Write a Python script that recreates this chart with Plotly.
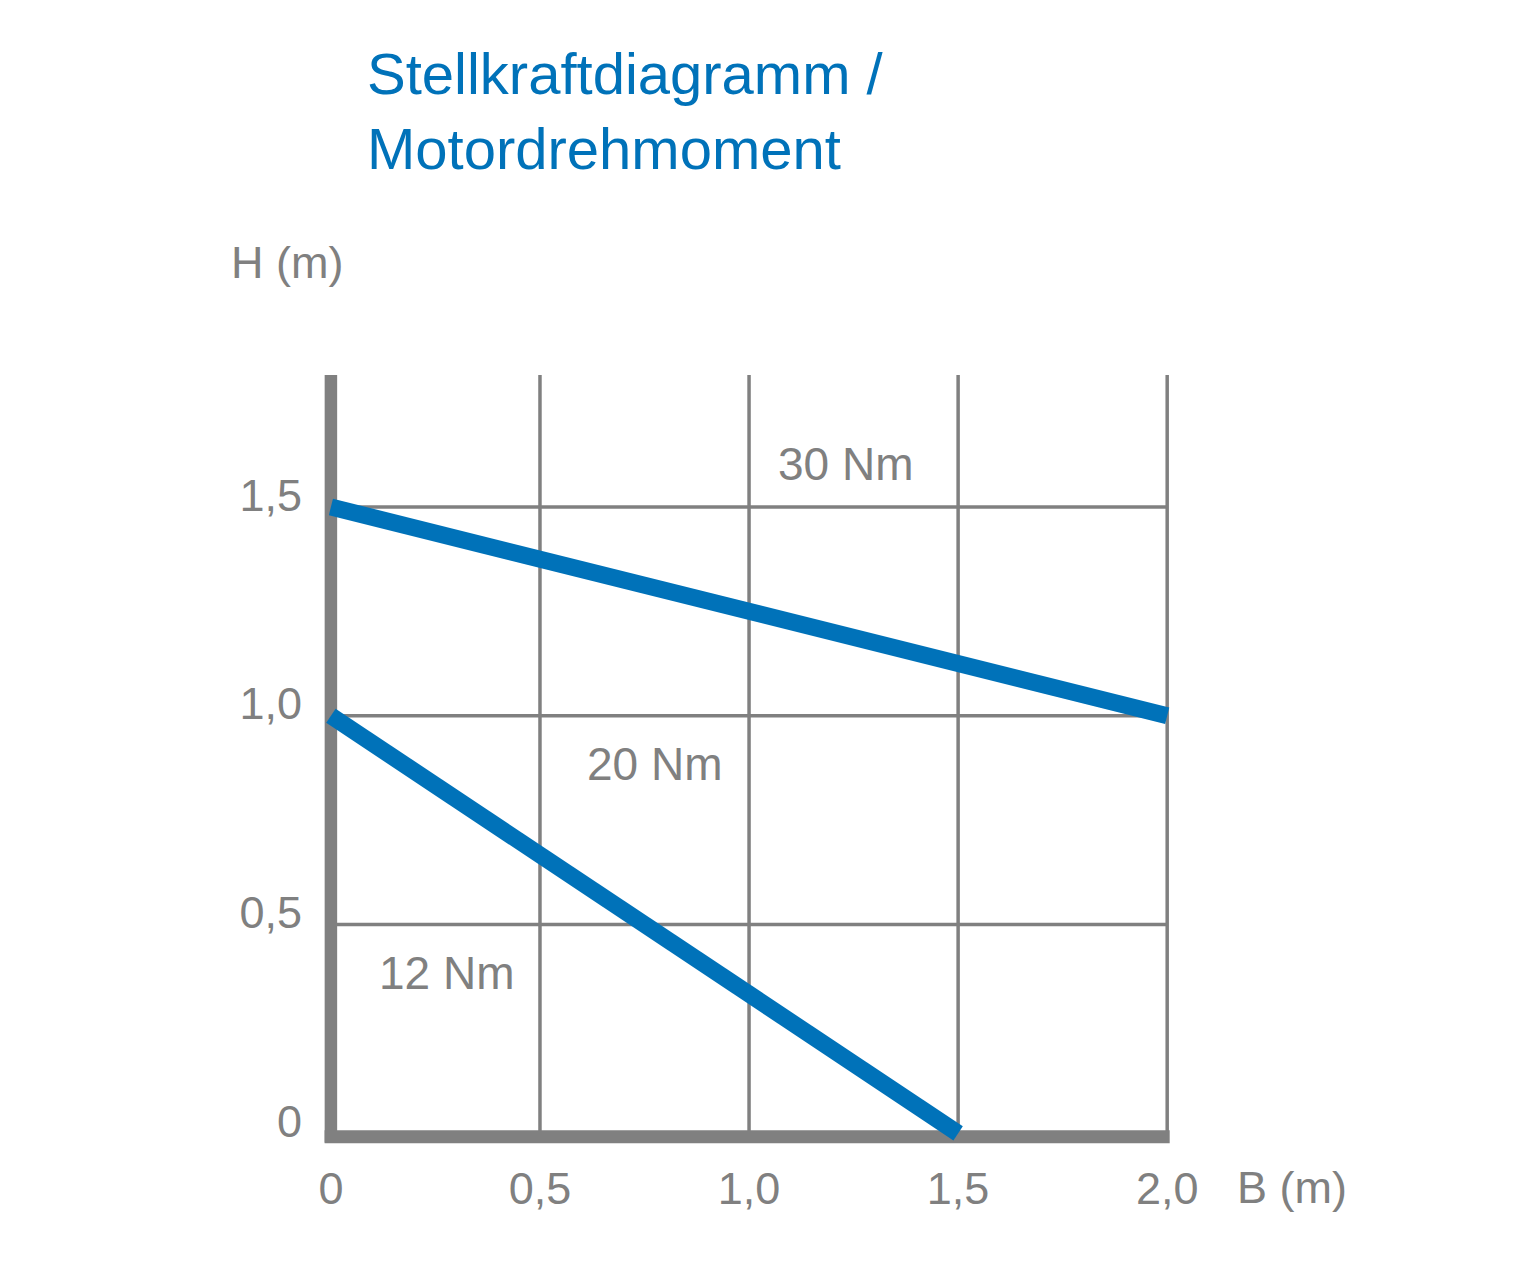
import plotly.graph_objects as go

# ---- data ----
b_30nm = [0.0, 2.0]          # B (m)
h_30nm = [1.5, 1.0]          # H (m)
b_12nm = [0.0, 1.5]
h_12nm = [1.0, 0.0]

x_tickvals = [0, 0.5, 1.0, 1.5, 2.0]
x_ticktext = ["0", "0,5", "1,0", "1,5", "2,0"]
y_tickvals = [0, 0.5, 1.0, 1.5]
y_ticktext = ["0", "0,5", "1,0", "1,5"]

region_labels = ["30 Nm", "20 Nm", "12 Nm"]
region_x = [1.23, 0.775, 0.277]
region_y = [1.603, 0.885, 0.383]

X_MAX = 2.0
Y_TOP = 1.816

GRAY = "#808080"
BLUE = "#0072B9"
FONT = "Liberation Sans, Arial, Helvetica, sans-serif"

fig = go.Figure()

for bx, hy in [(b_30nm, h_30nm), (b_12nm, h_12nm)]:
    fig.add_trace(go.Scatter(x=bx, y=hy, mode="lines",
                             line=dict(color=BLUE, width=17),
                             hoverinfo="skip", showlegend=False))

shapes = []
# grid lines
for xv in x_tickvals[1:]:
    shapes.append(dict(type="line", xref="x", yref="y", x0=xv, x1=xv, y0=0, y1=Y_TOP,
                       line=dict(color=GRAY, width=3.5), layer="below"))
for yv in y_tickvals[1:]:
    shapes.append(dict(type="line", xref="x", yref="y", x0=0, x1=X_MAX, y0=yv, y1=yv,
                       line=dict(color=GRAY, width=3.5), layer="below"))
# thick axis lines
shapes.append(dict(type="line", xref="x", yref="y", x0=0, x1=0, y0=-0.022, y1=Y_TOP,
                   line=dict(color=GRAY, width=12.5), layer="below"))
shapes.append(dict(type="line", xref="x", yref="y", x0=-0.015, x1=X_MAX + 0.006, y0=-0.008, y1=-0.008,
                   line=dict(color=GRAY, width=13), layer="below"))

annotations = []
for t, xv, yv in zip(region_labels, region_x, region_y):
    annotations.append(dict(x=xv, y=yv, xref="x", yref="y", text=t, showarrow=False,
                            xanchor="center", yanchor="middle",
                            font=dict(family=FONT, size=46, color=GRAY)))
annotations.append(dict(x=-0.0902, y=1.1458, xref="paper", yref="paper", text="H (m)", showarrow=False,
                        xanchor="left", yanchor="middle",
                        font=dict(family=FONT, size=45, color=GRAY)))
annotations.append(dict(x=1.0290, y=-0.049, xref="paper", yref="paper", text="B (m)", showarrow=False,
                        xanchor="left", yanchor="middle",
                        font=dict(family=FONT, size=45, color=GRAY)))

fig.update_layout(
    width=1514, height=1276,
    margin=dict(l=302, r=313, t=367, b=134, autoexpand=False),
    paper_bgcolor="white", plot_bgcolor="white",
    title=dict(text="Stellkraftdiagramm /<br>Motordrehmoment",
               xref="container", yref="container",
               x=359 / 1514, xanchor="left", y=1 - 86 / 1276, yanchor="top",
               font=dict(family=FONT, size=58, color=BLUE)),
    xaxis=dict(range=[-0.05, 2.1], showgrid=False, zeroline=False, showline=False,
               tickvals=x_tickvals, ticktext=x_ticktext, ticks="",
               tickfont=dict(family=FONT, size=45, color=GRAY),
               ticklabelstandoff=8, fixedrange=True),
    yaxis=dict(range=[-0.04, Y_TOP], showgrid=False, zeroline=False, showline=False,
               tickvals=y_tickvals, ticktext=y_ticktext, ticks="",
               tickfont=dict(family=FONT, size=45, color=GRAY),
               ticklabelshift=-12, ticklabelstandoff=7, fixedrange=True),
    shapes=shapes,
    annotations=annotations,
    showlegend=False,
)

fig.write_html("out.html")
